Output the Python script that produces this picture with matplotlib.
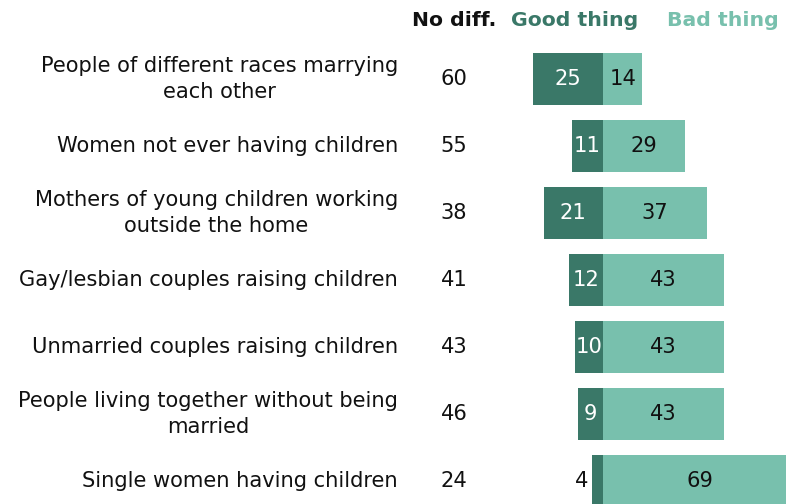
import matplotlib.pyplot as plt

# data
items = ['People of different races marrying\neach other',
         'Women not ever having children',
         'Mothers of young children working\noutside the home',
         'Gay/lesbian couples raising children',
         'Unmarried couples raising children',
         'People living together without being\nmarried',
         'Single women having children']
no_diff = [60, 55, 38, 41, 43, 46, 24]
good = [25, 11, 21, 12, 10, 9, 4]
bad = [14, 29, 37, 43, 43, 43, 69]

dark = '#3a7868'
light = '#78c0ad'

fig = plt.figure(figsize=(7.86, 5.04), dpi=100)
ax = fig.add_axes([0, 0, 1, 1])
ax.set_xlim(-603 / 2.82, 183 / 2.82)
ax.set_ylim((504 - 79) / 67, -79 / 67)
ax.axis('off')

ypos = list(range(len(items)))
h = 0.78
ax.barh(ypos, [-g for g in good], height=h, color=dark)
ax.barh(ypos, bad, height=h, color=light)

# pixel -> data helper for the text columns
px = lambda p: (p - 603) / 2.82
fs = 15.1
for i in ypos:
    ax.text(px(398), i, items[i], ha='right', va='center', fontsize=fs,
            multialignment='center', linespacing=1.35, color='#111111')
    ax.text(px(454), i, str(no_diff[i]), ha='center', va='center', fontsize=fs, color='#111111')
    if good[i] >= 8:
        ax.text(-good[i] / 2, i, str(good[i]), ha='center', va='center', fontsize=fs, color='white')
    else:
        ax.text(-good[i] - 1.3, i, str(good[i]), ha='right', va='center', fontsize=fs, color='#111111')
    ax.text(bad[i] / 2, i, str(bad[i]), ha='center', va='center', fontsize=fs, color='#111111')

ty = -79 / 67 + 21 / 67
ax.text(px(454), ty, 'No diff.', ha='center', va='center', fontsize=14.7, fontweight='bold', color='#111111')
ax.text(px(575), ty, 'Good thing', ha='center', va='center', fontsize=14.7, fontweight='bold', color=dark)
ax.text(px(723), ty, 'Bad thing', ha='center', va='center', fontsize=14.7, fontweight='bold', color=light)

fig.savefig('out.png', dpi=100)
